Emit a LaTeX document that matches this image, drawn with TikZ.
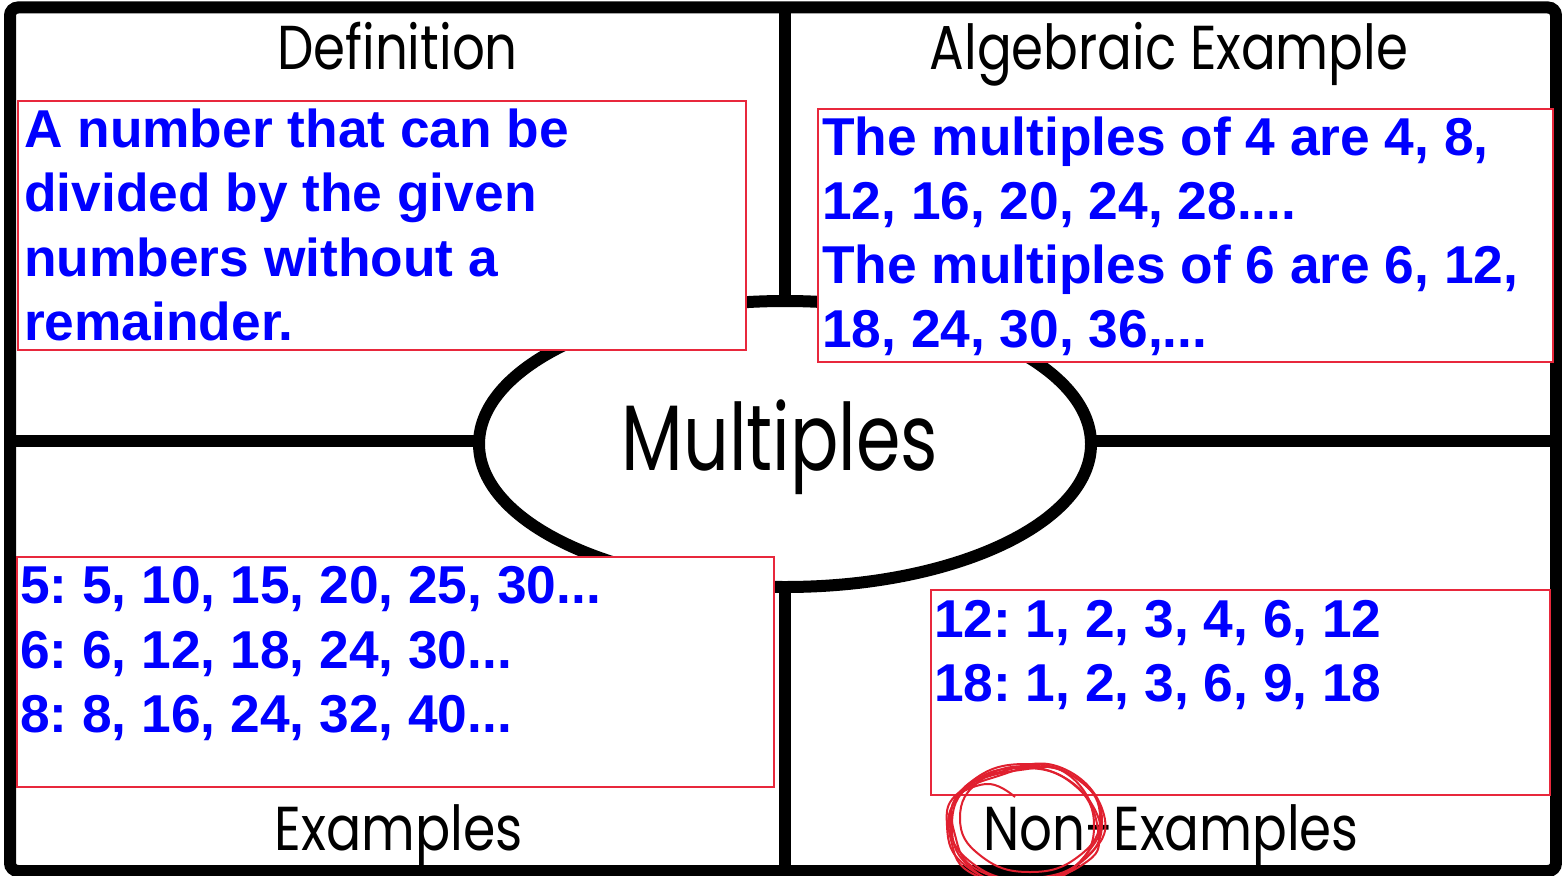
\documentclass[tikz,border=0pt]{standalone}
\usepackage{fontspec}
\newfontfamily\armfont{Liberation Sans}
\newfontfamily\handfont{Poppins}
\usetikzlibrary{shapes.geometric}
\definecolor{boxred}{HTML}{E8283C}
\definecolor{txtblue}{HTML}{0000FF}
\definecolor{scribred}{HTML}{E0202F}
\frenchspacing
\begin{document}
\begin{tikzpicture}[x=1pt,y=-1pt,
  frameline/.style={line width=12pt, draw=black},
  redbox/.style={draw=boxred, line width=2pt, fill=white},
  bl/.style={anchor=base west, inner sep=0pt, text=txtblue, font=\armfont\bfseries\fontsize{53.3}{64}\selectfont},
  ttl/.style={anchor=base, inner sep=0pt, font=\handfont\fontsize{62}{70}\selectfont},
  scrib/.style={draw=scribred, line width=2pt}
]
\useasboundingbox (0,0) rectangle (1562,875);
\clip (0,0) rectangle (1562,875);
\fill[white] (0,0) rectangle (1562,875);
% dividers
\coordinate (vt) at (785,7.5);
\coordinate (vb) at (785,871);
\coordinate (hl) at (10,441);
\coordinate (hr) at (1556,441);
\draw[frameline] (vt) -- (vb);
\draw[frameline] (hl) -- (hr);
% frame
\draw[frameline, rounded corners=8pt] (10,7.5) rectangle (1556,871);
% ellipse
\node[ellipse, draw=black, line width=12pt, fill=white, inner sep=0pt,
      minimum width=612pt, minimum height=286pt] (ell) at (785,444) {};
\node[ttl, font=\handfont\fontsize{93}{100}\selectfont] (multiples) at (780,470) {\scalebox{0.77}[1]{Multiples}};
% red boxes
\draw[redbox] (18,101) rectangle (746,350);
\draw[redbox] (818,109) rectangle (1553,362);
\draw[redbox] (17,557) rectangle (774,787);
\draw[redbox] (931,590) rectangle (1550,795);
% definition text
\node[bl] (d1) at (24,147) {A number that can be};
\node[bl] (d2) at (24,211.5) {divided by the given};
\node[bl] (d3) at (24,276) {numbers without a};
\node[bl] (d4) at (24,340) {remainder.};
% algebraic text
\node[bl] (a1) at (822,155) {The multiples of 4 are 4, 8,};
\node[bl] (a2) at (822,219) {12, 16, 20, 24, 28....};
\node[bl] (a3) at (822,283) {The multiples of 6 are 6, 12,};
\node[bl] (a4) at (822,347) {18, 24, 30, 36,...};
% examples text
\node[bl] (e1) at (20,603) {5: 5, 10, 15, 20, 25, 30...};
\node[bl] (e2) at (20,668) {6: 6, 12, 18, 24, 30...};
\node[bl] (e3) at (20,732) {8: 8, 16, 24, 32, 40...};
% non-examples text
\node[bl] (n1) at (934,637) {12: 1, 2, 3, 4, 6, 12};
\node[bl] (n2) at (934,701) {18: 1, 2, 3, 6, 9, 18};
% titles
\node[ttl] (tdef) at (397.5,70) {\scalebox{0.83}[1]{Definition}};
\node[ttl] (talg) at (1169,70) {\scalebox{0.83}[1]{Algebraic Example}};
\node[ttl] (tex) at (398.5,850) {\scalebox{0.84}[1]{Examples}};
\node[ttl] (tnon) at (1171,850) {\scalebox{0.83}[1]{Non-Examples}};
% scribble
\draw[scrib] plot[smooth cycle, tension=0.8] coordinates {(1102,822) (1080,863) (1026,880) (972,863) (950,822) (972,781) (1026,764) (1080,781)};
\draw[scrib] plot[smooth cycle, tension=0.8] coordinates {(1094,826) (1073,868) (1022,886) (971,868) (952,826) (971,784) (1022,768) (1073,784)};
\draw[scrib] plot[smooth cycle, tension=0.8] coordinates {(1100,818) (1079,856) (1030,872) (981,856) (960,818) (981,780) (1030,766) (1079,780)};
\draw[scrib] plot[smooth cycle, tension=0.8] coordinates {(1098,830) (1082,865) (1020,882) (966,866) (947,826) (962,790) (1020,770) (1070,776)};
\draw[scrib] plot[smooth cycle, tension=0.8] coordinates {(1104,815) (1085,858) (1035,878) (978,870) (955,835) (958,795) (1000,772) (1062,768)};
\draw[scrib] plot[smooth cycle, tension=0.8] coordinates {(1096,812) (1088,852) (1040,884) (975,875) (951,840) (956,800) (995,777) (1050,771)};
\draw[scrib] plot[smooth, tension=0.8] coordinates {(962,792) (990,784) (1015,797)};
\end{tikzpicture}
\end{document}
